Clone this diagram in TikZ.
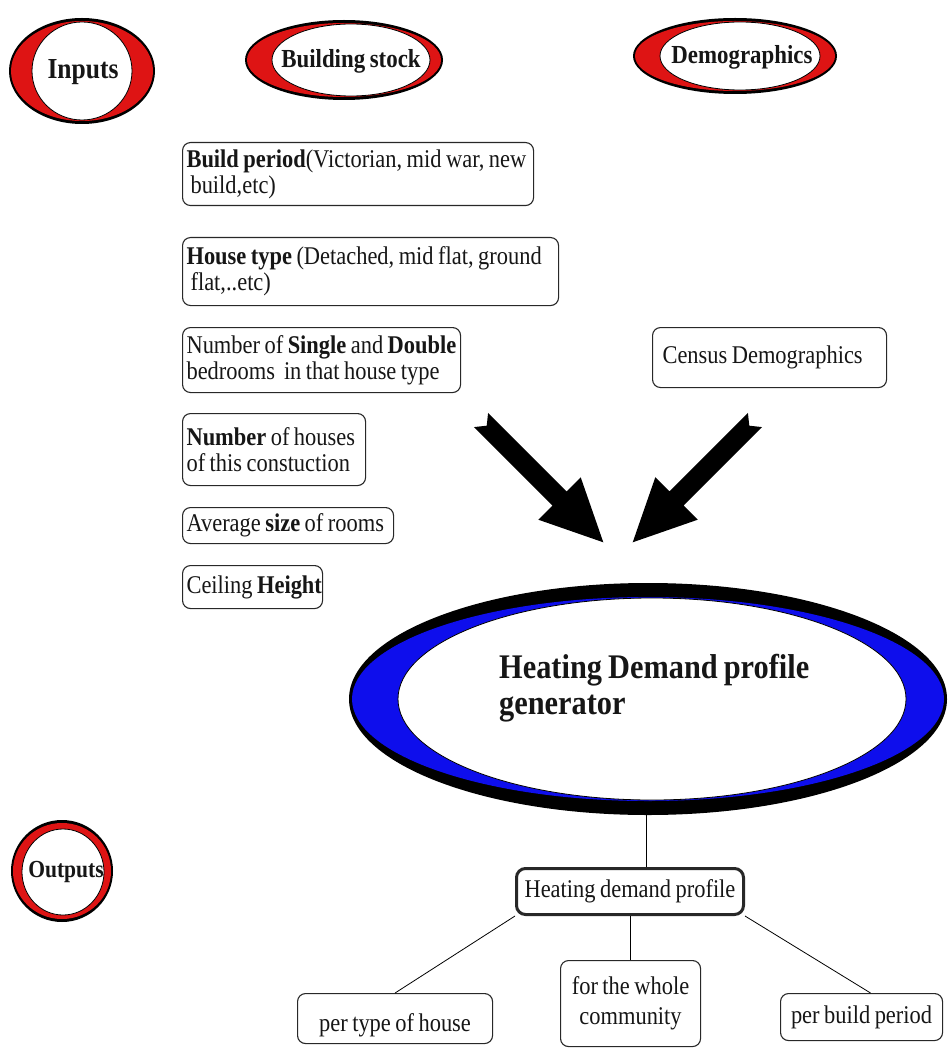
\documentclass[tikz,border=0pt]{standalone}
\usepackage{fontspec}
\setmainfont{Liberation Serif}[FakeStretch=0.88, WordSpace=0.8]
\usetikzlibrary{shapes.geometric,calc}

\definecolor{ringred}{RGB}{222,20,20}
\definecolor{ringblue}{RGB}{14,14,236}
\definecolor{ink}{RGB}{22,22,22}
\definecolor{boxline}{RGB}{40,40,40}

% Two-tone ring: black outer ellipse, coloured ellipse inside it,
% white inner ellipse with a thin outline on top.
% #1 colour, #2 outer centre, #3/#4 outer radii, #5/#6 colour radii,
% #7 inner centre, #8/#9 inner radii
\newcommand\crescentring[9]{%
  \fill[black] (#2) ellipse [x radius=#3pt, y radius=#4pt];
  \fill[#1] (#2) ellipse [x radius=#5pt, y radius=#6pt];
  \filldraw[fill=white, draw=black, line width=0.8pt] (#7) ellipse [x radius=#8pt, y radius=#9pt];
}

\tikzset{
  title/.style={font=\fontsize{26}{28}\selectfont\bfseries, text=ink, inner sep=0pt},
  infobox/.style={draw=boxline, line width=1.1pt, rounded corners=8pt,
    inner xsep=4pt, inner ysep=0pt, anchor=north west,
    font=\fontsize{25.5}{26}\selectfont, text=ink},
  leftbox/.style={infobox, align=flush left,
    execute at begin node={\spaceskip=0pt\xspaceskip=0pt}},
  midbox/.style={infobox, align=center},
  conn/.style={draw=black, line width=0.8pt},
  bigarrow/.style={fill=black},
}

\begin{document}
\begin{tikzpicture}[x=1pt, y=-1pt]
  \useasboundingbox (0,0) rectangle (948,1048);
  \fill[white] (0,0) rectangle (948,1048);

  % ---- section headings ----
  \crescentring{ringred}{82,71}{73}{53}{71}{50}{82,71}{50}{49}
  \node[title, font=\fontsize{29}{30}\selectfont\bfseries] (inputs) at (83,72) {Inputs};

  \crescentring{ringred}{344,60}{99}{40}{97}{37}{351,60}{79}{36}
  \node[title] (stock) at (351,61) {Building stock};

  \crescentring{ringred}{735,56}{102}{38}{100}{35}{740,56}{80}{34}
  \node[title] (demo) at (742,57) {Demographics};

  \crescentring{ringred}{62,871}{51}{51}{49}{48}{63,872}{41}{43}
  \node[title, font=\fontsize{24.5}{26}\selectfont\bfseries] (outputs) at (66,872) {Outputs};

  % ---- building stock inputs ----
  \node[leftbox, text width=343pt, minimum height=63pt] (bp) at (182,142)
    {\mbox{\textbf{Build period}(Victorian, mid war, new}\\\mbox{\hspace{4pt}build,etc)}};
  \node[leftbox, text width=368pt, minimum height=68pt] (ht) at (182,237)
    {\mbox{\textbf{House type} (Detached, mid flat, ground}\\\mbox{\hspace{4pt}flat,..etc)}};
  \node[leftbox, text width=270pt, minimum height=65pt] (ns) at (182,327)
    {\mbox{Number of \textbf{Single} and \textbf{Double}}\\\mbox{bedrooms\ \ in that house type}};
  \node[leftbox, text width=175pt, minimum height=72pt] (nh) at (182,413)
    {\mbox{\textbf{Number} of houses}\\\mbox{of this constuction}};
  \node[leftbox, text width=203pt, minimum height=36pt] (as) at (182,507)
    {\mbox{Average \textbf{size} of rooms}};
  \node[leftbox, text width=132pt, minimum height=43pt] (ch) at (182,565)
    {\mbox{Ceiling \textbf{Height}}};

  % ---- demographics input ----
  \node[leftbox, inner xsep=10pt, text width=214pt, minimum height=60pt] (cd) at (652,327)
    {Census Demographics};

  % ---- arrows feeding the generator ----
  \path[bigarrow] (488.1,412.9) -- (566.6,491.4) -- (580.7,477.3) -- (603.3,542.3)
    -- (538.3,519.7) -- (552.4,505.6) -- (473.9,427.1) -- (486.7,425.7) -- cycle;
  \path[bigarrow] (747.9,412.9) -- (669.4,491.4) -- (655.3,477.3) -- (632.7,542.3)
    -- (697.7,519.7) -- (683.6,505.6) -- (762.1,427.1) -- (749.3,425.7) -- cycle;

  % ---- outputs ----
  \node[midbox, line width=3pt, rounded corners=9pt, minimum width=227pt, minimum height=46pt] (hdp) at (515,867)
    {Heating demand profile};
  \node[midbox, minimum width=195pt, minimum height=50pt, text depth=0pt] (pt) at (297,993)
    {\raisebox{-8pt}{per type of house}};
  \node[midbox, minimum width=140pt, minimum height=86pt] (wc) at (560,960)
    {for the whole\\[4pt]community};
  \node[midbox, minimum width=162pt, minimum height=47pt] (bpd) at (780,993)
    {per build period};

  % ---- generator ----
  \node[ellipse, minimum width=598pt, minimum height=232pt, inner sep=0pt] (gen) at (648,699) {};
  \draw[conn] ([xshift=16pt]hdp.north) -- ([xshift=16pt]hdp.north |- gen.south);
  \crescentring{ringblue}{648,699}{299}{116}{296}{102}{652,699}{254}{101}
  \node[title, font=\fontsize{34.5}{36}\selectfont\bfseries, align=left, anchor=west] (gentext) at (499,688)
    {Heating Demand profile\\generator};

  % ---- output connectors ----
  \draw[conn] (hdp.south west) -- (pt.north);
  \draw[conn] (wc.north) -- (wc.north |- hdp.south);
  \draw[conn] (hdp.south east) -- ([xshift=9pt]bpd.north);
\end{tikzpicture}
\end{document}
